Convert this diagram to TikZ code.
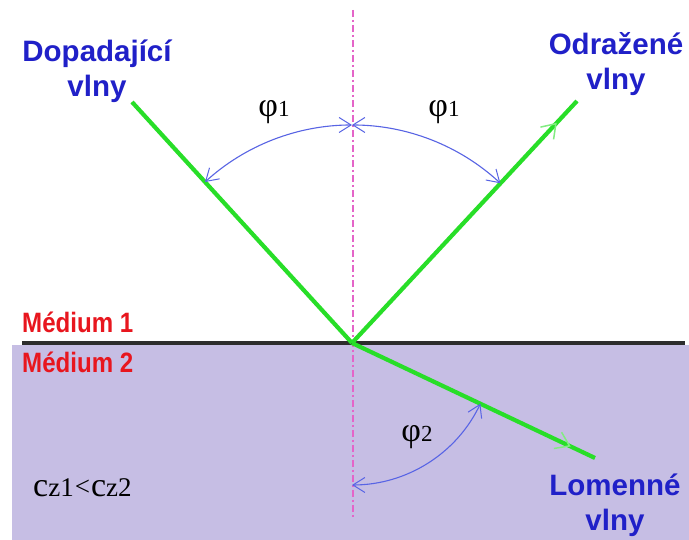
\documentclass[tikz,border=0pt]{standalone}
\usepackage{fontspec}
\setmainfont{Liberation Serif}
\newfontfamily\lblfont[BoldFont={Liberation Sans Bold}]{Liberation Sans}
\newfontfamily\medfont[FakeStretch=0.86]{Liberation Sans Bold}
\usetikzlibrary{arrows.meta,decorations.markings}
\definecolor{txtblue}{RGB}{32,32,200}
\definecolor{medred}{RGB}{232,22,30}
\definecolor{raygreen}{RGB}{40,222,40}
\definecolor{lightgreen}{RGB}{130,236,130}
\definecolor{arcblue}{RGB}{88,100,228}
\definecolor{medpurple}{RGB}{198,190,228}
\definecolor{normalpink}{RGB}{228,100,200}
\definecolor{interface}{RGB}{45,45,45}
\tikzset{
  wavelbl/.style={font=\lblfont\bfseries\fontsize{29.5}{35}\selectfont, text=txtblue, align=center, inner sep=0pt},
  medlbl/.style={font=\medfont\fontsize{28}{30}\selectfont, text=medred, anchor=west, inner sep=0pt},
  anglbl/.style={font=\fontsize{34}{36}\selectfont, inner sep=0pt},
  ray/.style={raygreen, line width=4.2pt},
  anglearc/.style={arcblue, line width=1.1pt, {Straight Barb[length=12pt,width=15pt,line width=1pt]}-{Straight Barb[length=12pt,width=15pt,line width=1pt]}},
  dirmark/.style={postaction={decorate}, decoration={markings, mark=at position #1 with {\draw[lightgreen, line width=1.5pt, -{Straight Barb[length=13pt,width=18pt]}] (-2pt,0) -- (0,0);}}}
}
\newcommand{\subsz}{\fontsize{23}{26}\selectfont}
\newcommand{\czsz}{\fontsize{27}{30}\selectfont}
\begin{document}
\begin{tikzpicture}[x=1pt,y=1pt]
\useasboundingbox (0,0) rectangle (689,540);
\fill[white] (0,0) rectangle (689,540);
% medium 2
\fill[medpurple] (12,0) rectangle (689,195);
% key points
\coordinate (O) at (352,197);
\coordinate (A) at (132,438);
\coordinate (B) at (577,439);
\coordinate (C) at (595,82);
\coordinate (Ntop) at (353,530);
\coordinate (Nbot) at (353,22);
\coordinate (Ileft) at (22,197);
\coordinate (Iright) at (685,197);
% normal
\draw[normalpink, line width=1.3pt, dash pattern=on 7pt off 3pt on 2pt off 3pt] (Ntop) -- (Nbot);
% interface
\draw[interface, line width=3.2pt] (Ileft) -- (Iright);
% rays
\draw[ray] (A) -- (O);
\draw[ray, dirmark=0.91] (O) -- (B);
\draw[ray, dirmark=0.9] (O) -- (C);
% angle arcs
\draw[anglearc] ([shift={(90:218)}]O) arc[start angle=90, end angle=132.4, radius=218];
\draw[anglearc] ([shift={(90:218)}]O) arc[start angle=90, end angle=47.1, radius=218];
\draw[anglearc] ([shift={(270:142)}]O) arc[start angle=270, end angle=334.7, radius=142];
% labels
\node[wavelbl] (inc) at (97,469) {Dopadající\\vlny};
\node[wavelbl] (refl) at (616,476) {Odražené\\vlny};
\node[wavelbl] (refr) at (615,35) {Lomenné\\vlny};
\node[medlbl] (m1) at (22,218) {Médium 1};
\node[medlbl] (m2) at (22,178) {Médium 2};
\node[anglbl] (p1l) at (274,428) {φ{\subsz 1}};
\node[anglbl] (p1r) at (444,428) {φ{\subsz 1}};
\node[anglbl] (p2) at (417,103) {φ{\subsz 2}};
\node[anchor=west, inner sep=0pt, font=\fontsize{34}{36}\selectfont] (cz) at (33,52) {c{\czsz z1}\raisebox{1pt}{\czsz\kern1pt<\kern1pt}c{\czsz z2}};
\end{tikzpicture}
\end{document}
